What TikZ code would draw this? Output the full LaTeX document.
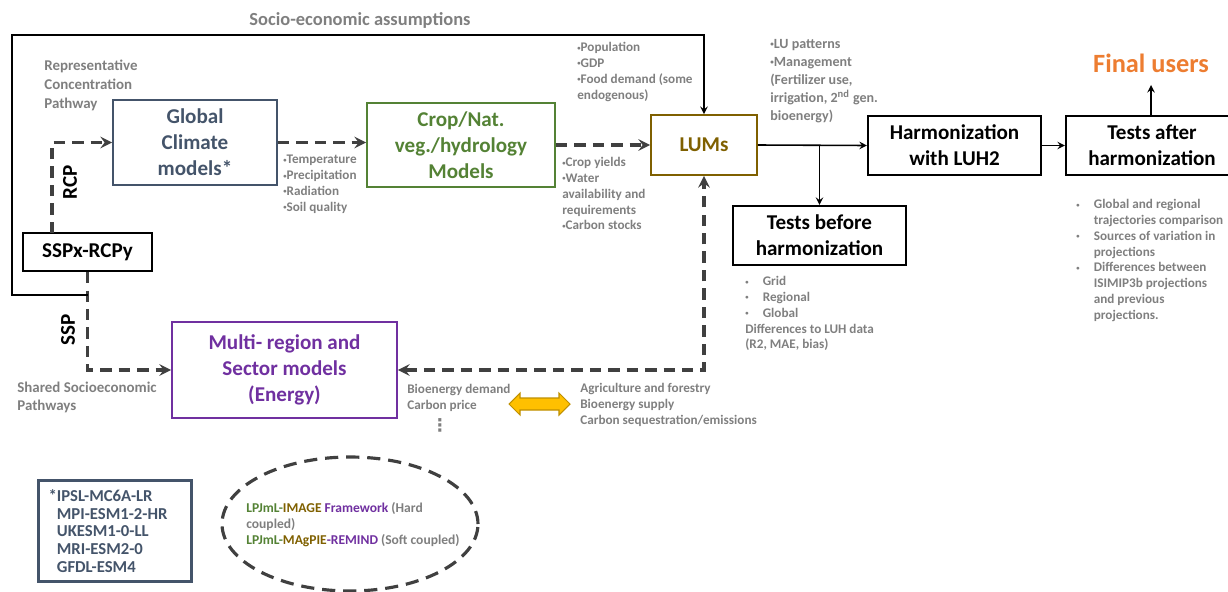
\documentclass[tikz,border=0pt]{standalone}
\usepackage{fontspec}
\setmainfont{Carlito}
\newfontfamily\symfont{DejaVu Sans}
\definecolor{slate}{HTML}{44546A}
\definecolor{cropgreen}{HTML}{548235}
\definecolor{lumolive}{HTML}{7F6000}
\definecolor{multipurple}{HTML}{7030A0}
\definecolor{finalorange}{HTML}{ED7D31}
\definecolor{txtgray}{HTML}{7F7F7F}
\definecolor{dashgray}{HTML}{404040}
\definecolor{arrowyellow}{HTML}{FFC000}
\definecolor{arrowedge}{HTML}{BF9000}
\newcommand{\sbul}{\raisebox{0.25ex}{\scalebox{0.5}{\textbullet}}}
\newcommand{\itm}{\makebox[0.35cm][l]{\sbul}}
\newcommand{\ind}{\hspace*{0.35cm}}

\begin{document}
\begin{tikzpicture}[x=0.02cm, y=-0.02cm, >=stealth,
	box/.style={draw, line width=1.2pt, inner sep=0pt, align=center, font=\fontsize{12}{14.7}\selectfont\bfseries},
	note/.style={anchor=north west, inner sep=0pt, align=left, text=txtgray, font=\fontsize{7.5}{9}\selectfont\bfseries},
	dashline/.style={->, draw=dashgray, line width=1.9pt, dash pattern=on 6.5pt off 4pt},
	link/.style={->, line width=0.9pt}]
	\useasboundingbox (0,0) rectangle (1228,592);
	% model boxes
	\node[box, line width=1pt, draw=slate, text=slate, minimum width=3.28cm, minimum height=1.70cm] (gcm) at (195,142.5) {Global\\Climate\\models*};
	\node[box, line width=1pt, draw=cropgreen, text=cropgreen, minimum width=3.76cm, minimum height=1.68cm] (crop) at (461,145) {Crop/Nat.\\veg./hydrology\\Models};
	\node[box, line width=1pt, draw=lumolive, text=lumolive, minimum width=2.12cm, minimum height=1.20cm] (lums) at (704,145) {LUMs};
	\node[box, line width=1pt, draw=multipurple, text=multipurple, minimum width=4.50cm, minimum height=1.92cm] (multi) at (284.5,370) {Multi- region and\\Sector models\\(Energy)};
	\node[box, minimum width=2.58cm, minimum height=0.76cm] (ssp) at (87.5,252) {SSPx-RCPy};
	\node[box, minimum width=3.46cm, minimum height=1.18cm] (harm) at (954.5,145.5) {Harmonization\\with LUH2};
	\node[box, minimum width=3.46cm, minimum height=1.18cm] (before) at (819.5,235.5) {Tests before\\harmonization};
	\node[box, minimum width=3.44cm, minimum height=1.18cm] (after) at (1152,145.5) {Tests after\\harmonization};
	\node[text=finalorange, inner sep=7pt, font=\fontsize{15}{18}\selectfont\bfseries] (final) at (1151,63) {Final users};
	% labels
	\node[text=txtgray, font=\fontsize{10.5}{12}\selectfont\bfseries] (sociotxt) at (360,20) {Socio-economic assumptions};
	\node[note, font=\fontsize{8.5}{10.8}\selectfont\bfseries] (rcptxt) at (44,60) {Representative\\Concentration\\Pathway};
	\node[note, font=\fontsize{8.5}{10.2}\selectfont\bfseries] (ssptxt) at (17,382) {Shared Socioeconomic\\Pathways};
	\node[rotate=90, font=\fontsize{12}{14}\selectfont\bfseries] (rcplbl) at (70,182) {RCP};
	\node[rotate=90, font=\fontsize{12}{14}\selectfont\bfseries] (ssplbl) at (68,330) {SSP};
	\node[note] (climvars) at (283,155) {\sbul Temperature\\\sbul Precipitation\\\sbul Radiation\\\sbul Soil quality};
	\node[note] (cropvars) at (562,157) {\sbul Crop yields\\\sbul Water\\availability and\\requirements\\\sbul Carbon stocks};
	\node[note] (socvars) at (577,42) {\sbul Population\\\sbul GDP\\\sbul Food demand (some\\endogenous)};
	\node[note, font=\fontsize{8}{10.2}\selectfont\bfseries] (luvars) at (770,39) {\sbul LU patterns\\\sbul Management\\(Fertilizer use,\\irrigation, 2\textsuperscript{nd} gen.\\bioenergy)};
	\node[note] (beforevars) at (745,276) {\itm Grid\\\itm Regional\\\itm Global\\Differences to LUH data\\(R2, MAE, bias)};
	\node[note] (aftervars) at (1076,199) {\itm Global and regional\\\ind trajectories comparison\\\itm Sources of variation in\\\ind projections\\\itm Differences between\\\ind ISIMIP3b projections\\\ind and previous\\\ind projections.};
	\node[note] (bioleft) at (407,384) {Bioenergy demand\\Carbon price};
	\node[text=txtgray, inner sep=0pt, font=\symfont\bfseries\fontsize{10}{10}\selectfont] (dots) at (440,425) {⋮};
	\node[note] (bioright) at (580,383) {Agriculture and forestry\\Bioenergy supply\\Carbon sequestration/emissions};
	% connectors
	\coordinate (rcpfoot) at (52,233);
	\coordinate (split) at (87.5,295);
	\coordinate (corner) at (12,35);
	\draw[dashline] (rcpfoot) |- (gcm.west);
	\draw[dashline] (ssp.south) |- (multi.west);
	\draw[dashline] (gcm.east) -- (gcm.east -| crop.west);
	\draw[dashline] (crop.east) -- (lums.west);
	\draw[dashline, <->] (multi.east) -| (lums.south);
	\draw[link] (split) -| (corner) -| (lums.north);
	\draw[link] (lums.east) -- (harm.west);
	\draw[link] (before.north |- lums.east) -- (before.north);
	\draw[link] (harm.east) -- (harm.east -| after.west);
	\draw[link] (after.north -| final) -- (final.south);
	% two-way exchange arrow
	\filldraw[fill=arrowyellow, draw=arrowedge, line width=0.6pt] (509,404) -- (520,393) -- (520,398) -- (559,398) -- (559,393) -- (570,404) -- (559,415) -- (559,410) -- (520,410) -- (520,415) -- cycle;
	% legend: GCMs and coupling frameworks
	\node[draw=slate, line width=1.8pt, text=slate, anchor=north west, text width=2.66cm, inner xsep=0.2cm, inner ysep=0pt, minimum height=2.02cm, align=left, font=\fontsize{9.5}{10.2}\selectfont\bfseries] (gcmlist) at (37,479) {*IPSL-MC6A-LR\\\phantom{*}MPI-ESM1-2-HR\\\phantom{*}UKESM1-0-LL\\\phantom{*}MRI-ESM2-0\\\phantom{*}GFDL-ESM4};
	\draw[draw=dashgray, line width=1.8pt, dash pattern=on 7.5pt off 4.5pt] (350,524) ellipse [x radius=2.56cm, y radius=1.34cm];
	\node[note, font=\fontsize{7.7}{9}\selectfont\bfseries] (coupling) at (246,502) {{\color{cropgreen}LPJmL-}{\color{lumolive}IMAGE} {\color{multipurple}Framework} (Hard\\coupled)\\{\color{cropgreen}LPJmL-}{\color{lumolive}MAgPIE}{\color{multipurple}-REMIND} (Soft coupled)};
\end{tikzpicture}
\end{document}
